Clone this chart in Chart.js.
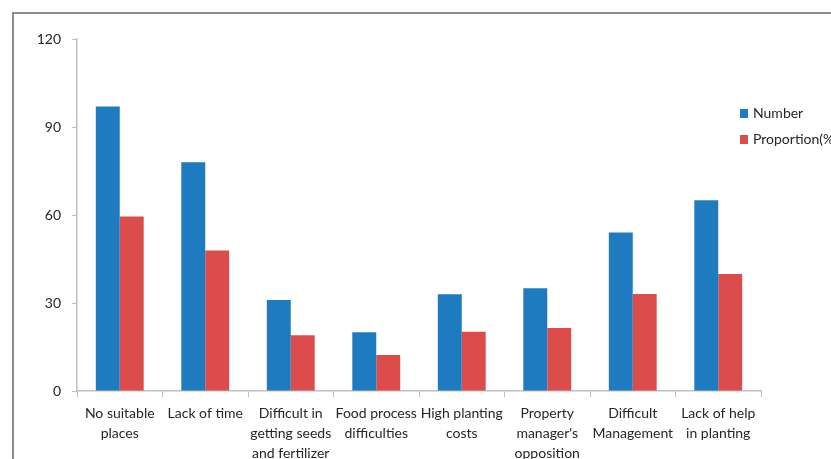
<!DOCTYPE html>
<html>
<head>
<meta charset="utf-8">
<script src="https://cdn.jsdelivr.net/npm/chart.js@4/dist/chart.umd.min.js"></script>
<style>
  html, body { margin: 0; padding: 0; background: #fff; overflow: hidden; }
  #wrap { position: absolute; left: 0; top: 0; width: 900px; height: 459px; }
</style>
</head>
<body>
<div id="wrap"><canvas id="c" width="900" height="459"></canvas></div>
<script>
// Reasons for not planting: respondent counts and share of respondents
const categories = [
  ['No suitable', 'places'],
  ['Lack of time'],
  ['Difficult in', 'getting seeds', 'and fertilizer'],
  ['Food process', 'difficulties'],
  ['High planting', 'costs'],
  ['Property', "manager's", 'opposition'],
  ['Difficult', 'Management'],
  ['Lack of help', 'in planting']
];
const numberValues = [97, 78, 31, 20, 33, 35, 54, 65];
const proportionValues = [59.5, 47.9, 19.0, 12.3, 20.2, 21.5, 33.1, 39.9];
const seriesNames = ['Number', 'Proportion(%)'];
const yTicks = [0, 30, 60, 90, 120];

const FONT = 'Lato, "Open Sans", sans-serif';
const TEXT = '#262626';

// Outer frame drawn around the figure
const framePlugin = {
  id: 'frame',
  beforeDraw(chart) {
    const ctx = chart.ctx;
    ctx.save();
    ctx.strokeStyle = '#8c8c8c';
    ctx.lineWidth = 2;
    ctx.beginPath();
    ctx.moveTo(13, chart.height + 5);
    ctx.lineTo(13, 13);
    ctx.lineTo(chart.width + 5, 13);
    ctx.stroke();
    ctx.restore();
  }
};

// Legend block on the right side
const legendPlugin = {
  id: 'sideLegend',
  afterDraw(chart) {
    const ctx = chart.ctx;
    ctx.save();
    ctx.font = '14px ' + FONT;
    ctx.textBaseline = 'middle';
    ctx.textAlign = 'left';
    chart.data.datasets.forEach((ds, i) => {
      const cy = 113.5 + i * 26;
      ctx.fillStyle = ds.backgroundColor;
      ctx.fillRect(740, cy - 4.5, 8, 9);
      ctx.fillStyle = TEXT;
      ctx.fillText(ds.label, 753, cy);
    });
    ctx.restore();
  }
};

new Chart(document.getElementById('c'), {
  type: 'bar',
  data: {
    labels: categories,
    datasets: [
      { label: seriesNames[0], data: numberValues, backgroundColor: '#1f7bbf' },
      { label: seriesNames[1], data: proportionValues, backgroundColor: '#db4c4a' }
    ]
  },
  options: {
    responsive: false,
    animation: false,
    devicePixelRatio: 1,
    layout: { padding: { top: 39, right: 139, left: 0, bottom: 0 } },
    datasets: { bar: { categoryPercentage: 0.56, barPercentage: 1.0 } },
    plugins: { legend: { display: false }, tooltip: { enabled: false } },
    scales: {
      x: {
        grid: {
          display: true,
          drawOnChartArea: false,
          drawTicks: true,
          tickLength: 6,
          color: '#bfbfbf',
          offset: true
        },
        border: { display: true, color: '#bfbfbf', width: 1.5 },
        ticks: {
          color: TEXT,
          font: { family: FONT, size: 14, lineHeight: 1.45 },
          padding: 6,
          maxRotation: 0,
          autoSkip: false
        },
        afterFit(scale) { scale.height = 68; }
      },
      y: {
        min: 0,
        max: 120,
        afterBuildTicks(scale) { scale.ticks = yTicks.map(v => ({ value: v })); },
        grid: {
          display: true,
          drawOnChartArea: false,
          drawTicks: true,
          tickLength: 5,
          color: '#bfbfbf'
        },
        border: { display: true, color: '#bfbfbf', width: 1.5 },
        ticks: {
          color: TEXT,
          font: { family: FONT, size: 14 },
          padding: 11
        },
        afterFit(scale) { scale.width = 77; }
      }
    }
  },
  plugins: [framePlugin, legendPlugin]
});
</script>
</body>
</html>
